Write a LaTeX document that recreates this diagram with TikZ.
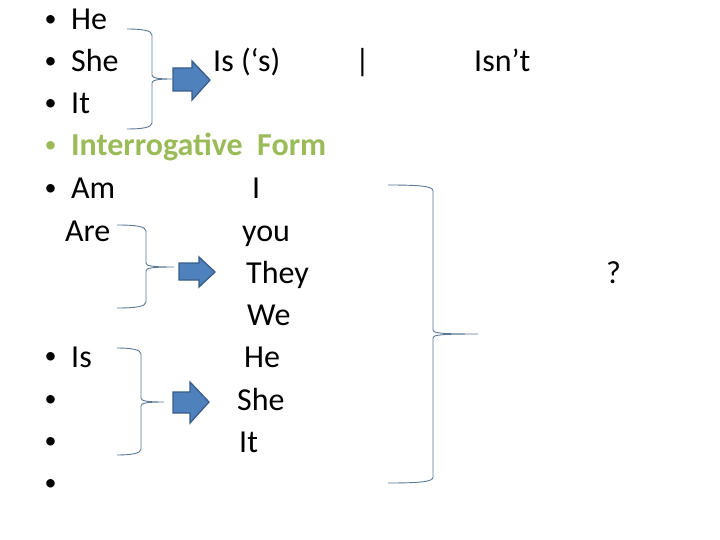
\documentclass[tikz,border=0pt]{standalone}
\usepackage{fontspec}
\setmainfont{Carlito}
\definecolor{braceblue}{RGB}{88,120,150}
\definecolor{arrowfill}{RGB}{79,129,189}
\definecolor{arrowedge}{RGB}{56,93,138}
\definecolor{formgreen}{RGB}{155,187,89}
\def\mybrace#1#2#3#4#5#6{%
  \draw[brace] (#1,#2) .. controls (#3-10,#2) and (#3,#2+1.5) .. (#3,#2+6)
    -- (#3,#4-4) .. controls (#3,#4-1) and (#3+6,#4) .. (#5,#4)
    .. controls (#3+6,#4) and (#3,#4+1) .. (#3,#4+4)
    -- (#3,#6-6) .. controls (#3,#6-1.5) and (#3-10,#6) .. (#1,#6);}
\def\myarrow#1#2#3#4#5#6#7#8{% x0 shaftTop shaftBot xh headTop headBot xtip ymid
  \draw[blockarrow] (#1,#2) -- (#4,#2) -- (#4,#5) -- (#7,#8) -- (#4,#6) -- (#4,#3) -- (#1,#3) -- cycle;}
\begin{document}
\begin{tikzpicture}[x=1pt,y=-1pt,
  txt/.style={anchor=base west, inner sep=0pt, font=\fontsize{32}{38}\selectfont},
  bul/.style={anchor=base, inner sep=0pt, yshift=3.5pt, font=\fontsize{24}{28}\selectfont},
  brace/.style={draw=braceblue, line width=0.9pt},
  blockarrow/.style={fill=arrowfill, draw=arrowedge, line width=1.3pt, line join=miter}]
\useasboundingbox[fill=white] (0,0) rectangle (720,540);
% bullets
\foreach \y/\n in {30/b1,72/b2,114/b3,199/b5,367/b6,410/b7,452/b8,494/b9}
  \node[bul] (\n) at (50.5,\y) {•};
\node[bul, text=formgreen] (b4) at (50.5,156) {•};
% left column
\node[txt] (he1) at (71,30) {He};
\node[txt] (she1) at (71,72) {She};
\node[txt] (it1) at (71,114) {It};
\node[txt, text=formgreen, font=\fontsize{32}{38}\selectfont\bfseries] (form) at (71,156) {Interrogative~ Form};
\node[txt] (am) at (71,199) {Am};
\node[txt] (are) at (65,241) {Are};
\node[txt] (is) at (71,367) {Is};
% top row
\node[txt] (iss) at (213,72) {Is (‘s)};
\node[txt] (bar) at (355,72) {|};
\node[txt] (isnt) at (474,72) {Isn’t};
% pronouns
\node[txt] (pI) at (252,199) {I};
\node[txt] (pyou) at (242,241) {you};
\node[txt] (pthey) at (246,283) {They};
\node[txt] (pwe) at (247,325) {We};
\node[txt] (phe) at (244,367) {He};
\node[txt] (pshe) at (237,410) {She};
\node[txt] (pit) at (239,452) {It};
\node[txt] (q) at (606,283) {?};
% braces
\mybrace{127}{29}{152}{79}{172}{129}
\mybrace{117}{225}{146}{267}{174}{308}
\mybrace{117}{348}{141}{402}{164}{455}
\mybrace{388}{185}{433}{334}{478}{483}
% block arrows
\myarrow{173}{68}{91}{192}{61}{100}{210}{80}
\myarrow{179}{263}{280}{199}{257}{287}{215}{272}
\myarrow{173}{392}{413}{190}{382}{423}{209}{402}
\end{tikzpicture}
\end{document}
